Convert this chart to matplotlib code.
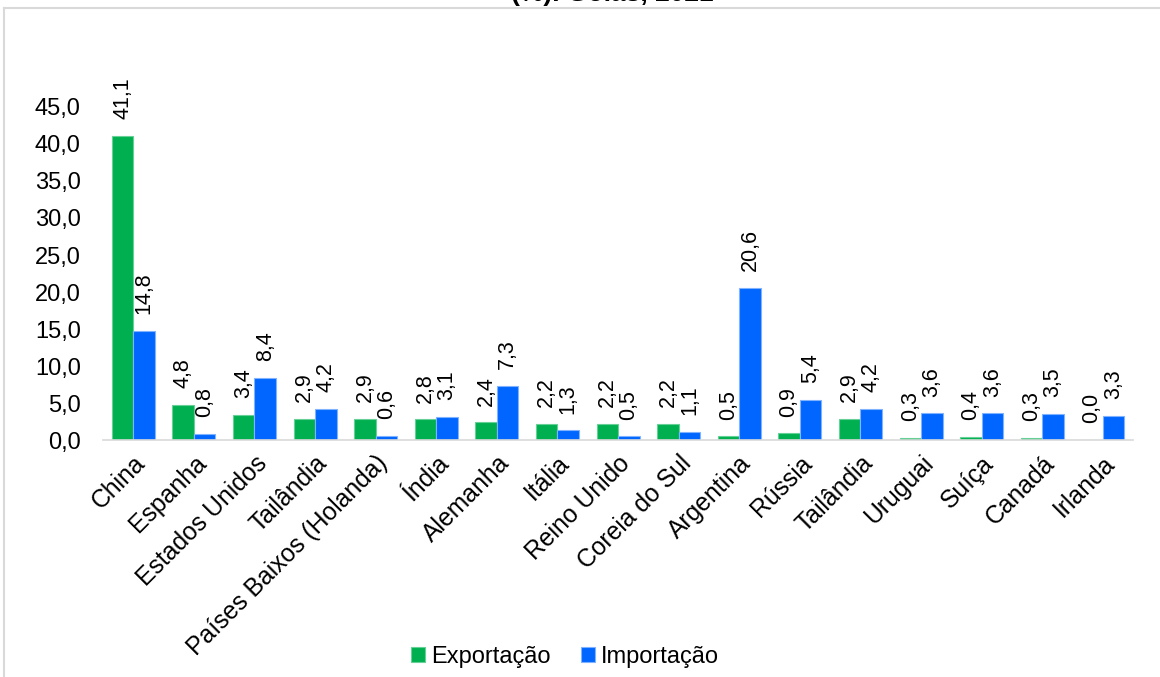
import matplotlib.pyplot as plt
from matplotlib.lines import Line2D
import numpy as np

plt.rcParams['font.family'] = ['Liberation Sans', 'DejaVu Sans']

paises = ['China', 'Espanha', 'Estados Unidos', 'Tailândia', 'Países Baixos (Holanda)',
          'Índia', 'Alemanha', 'Itália', 'Reino Unido', 'Coreia do Sul', 'Argentina',
          'Rússia', 'Tailândia', 'Uruguai', 'Suíça', 'Canadá', 'Irlanda']
exportacao = [41.1, 4.8, 3.4, 2.9, 2.9, 2.8, 2.4, 2.2, 2.2, 2.2, 0.5, 0.9, 2.9, 0.3, 0.4, 0.3, 0.0]
importacao = [14.8, 0.8, 8.4, 4.2, 0.6, 3.1, 7.3, 1.3, 0.5, 1.1, 20.6, 5.4, 4.2, 3.6, 3.6, 3.5, 3.3]
yticks = [0, 5, 10, 15, 20, 25, 30, 35, 40, 45]

verde = '#00B050'
azul = '#0066FF'
fs = 17

def fmt(v):
    return f'{v:.1f}'.replace('.', ',')

fig = plt.figure(figsize=(11.6, 6.77), dpi=100)
ax = fig.add_axes([0.0888, 0.35, 0.888, 0.492])

x = np.arange(len(paises))
w = 0.355
b1 = ax.bar(x - w / 2, exportacao, w, color=verde, edgecolor='#66D096', linewidth=0.8,
            label='Exportação')
b2 = ax.bar(x + w / 2, importacao, w, color=azul, edgecolor='#80B3FF', linewidth=0.8,
            label='Importação')

# rótulos de dados
for bars, vals in ((b1, exportacao), (b2, importacao)):
    for r, v in zip(bars, vals):
        ax.annotate(fmt(v), (r.get_x() + r.get_width() / 2, v), xytext=(0, 12),
                    textcoords='offset points', rotation=90, ha='center', va='bottom',
                    fontsize=15.5, annotation_clip=False)

ax.set_xlim(-0.5, len(paises) - 0.5)
ax.set_ylim(0, 45)
ax.set_yticks(yticks)
ax.set_yticklabels([fmt(t) for t in yticks], fontsize=fs)
ax.set_xticks(x)
ax.set_xticklabels(paises, rotation=45, ha='right', rotation_mode='anchor', fontsize=17.8)
ax.tick_params(axis='y', length=0, pad=16)
ax.tick_params(axis='x', length=0, pad=8)
for s in ['top', 'right', 'left']:
    ax.spines[s].set_visible(False)
ax.spines['bottom'].set_color('#D9D9D9')
ax.spines['bottom'].set_linewidth(1.2)

ax.legend(loc='center', bbox_to_anchor=(565 / 1160, 1 - 657 / 677), bbox_transform=fig.transFigure,
          ncol=2, frameon=False, fontsize=fs, handlelength=0.6, handleheight=0.6,
          handletextpad=0.25, columnspacing=1.3)

# borda do gráfico
fig.add_artist(Line2D([4 / 1160, 4 / 1160], [0, 1 - 8 / 677], color='#D9D9D9', lw=1.5))
fig.add_artist(Line2D([4 / 1160, 1], [1 - 8 / 677, 1 - 8 / 677], color='#D9D9D9', lw=1.5))

fig.text(612 / 1160, 1 - 1 / 677, '(%). Goiás, 2021', ha='center', va='baseline',
         fontsize=19, fontweight='bold')

fig.savefig('out.png', dpi=100)
